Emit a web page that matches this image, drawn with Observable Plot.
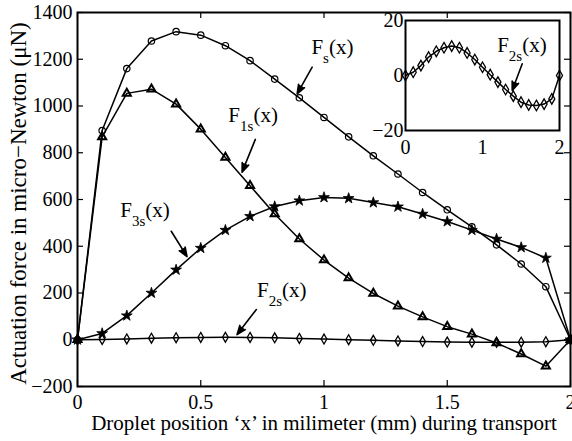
<!DOCTYPE html>
<html>
<head>
<meta charset="utf-8">
<script src="https://cdn.jsdelivr.net/npm/d3@7"></script>
<script src="https://cdn.jsdelivr.net/npm/@observablehq/plot@0.6"></script>
<style>
  body { margin: 0; background: white; }
  #wrap { position: relative; width: 572px; height: 441px; overflow: hidden; }
  #inset { position: absolute; left: 365px; top: 10px; }
</style>
</head>
<body>
<div id="wrap"><div id="main"></div><div id="inset"></div></div>
<script>
// ---- data ----
const xs   = [0, 0.1, 0.2, 0.3, 0.4, 0.5, 0.6, 0.7, 0.8, 0.9, 1.0, 1.1, 1.2, 1.3, 1.4, 1.5, 1.6, 1.7, 1.8, 1.9, 2.0];
const Fs   = [0, 895, 1160, 1278, 1318, 1303, 1258, 1194, 1115, 1035, 951, 868, 787, 709, 630, 556, 483, 406, 324, 227, 0];
const F1s  = [0, 868, 1054, 1072, 1008, 901, 780, 659, 538, 431, 341, 264, 198, 144, 98, 56, 24, -14, -61, -113, 0];
const F3s  = [0, 27, 103, 200, 299, 392, 469, 528, 570, 595, 609, 605, 587, 569, 538, 506, 469, 431, 395, 350, 0];
const F2s  = [0, 1.2, 3.6, 6.7, 8.8, 10.1, 10.7, 10.1, 8.2, 5.8, 3.0, 0.3, -2.4, -5.1, -7.5, -9.7, -10.7, -10.9, -10.4, -8.5, 0];

const xTicks = [0, 0.5, 1, 1.5, 2];
const yTicks = [-200, 0, 200, 400, 600, 800, 1000, 1200, 1400];
const insetXTicks = [0, 1, 2];
const insetYTicks = [-20, 0, 20];

const xLabel = "Droplet position \u2018x\u2019 in milimeter (mm) during transport";
const yLabel = "Actuation force in micro\u2212Newton (\u03bcN)";

// annotation labels: "main|subscript|tail"
const mainLabels = [
  {x: 0.949, y: 1250, t: "F|s|(x)"},
  {x: 0.612, y: 959,  t: "F|1s|(x)"},
  {x: 0.1734, y: 553, t: "F|3s|(x)"},
  {x: 0.728, y: 211,  t: "F|2s|(x)"}
];
const mainArrows = [
  {x1: 0.952, y1: 1166, x2: 0.891, y2: 1052},
  {x1: 0.7215, y1: 857, x2: 0.6675, y2: 717},
  {x1: 0.3804, y1: 464, x2: 0.4442, y2: 356},
  {x1: 0.7255, y1: 129, x2: 0.6472, y2: 22}
];
const insetLabels = [{x: 1.19, y: 10.9, t: "F|2s|(x)"}];
const insetArrows = [{x1: 1.516, y1: 4.25, x2: 1.386, y2: -5.45}];

// ---- build tables ----
const rows = (ys) => xs.map((x, i) => ({x, y: ys[i]}));
const dFs = rows(Fs), dF1s = rows(F1s), dF3s = rows(F3s), dF2s = rows(F2s);

const FONT = "'Liberation Serif', 'Times New Roman', serif";
const fmt = d => (d < 0 ? "\u2212" + Math.abs(d) : String(d));

const W = 572, H = 441, ML = 77, MR = 2, MT = 12, MB = 55;
const FW = W - ML - MR, FH = H - MT - MB, TK = 6;

const main = Plot.plot({
  width: W, height: H,
  marginLeft: ML, marginRight: MR, marginTop: MT, marginBottom: MB,
  x: {domain: [0, 2], axis: null},
  y: {domain: [-200, 1400], axis: null},
  style: {fontFamily: FONT, fontSize: "20px", background: "white", color: "black"},
  marks: [
    // inward ticks on four sides
    Plot.ruleX(xTicks, {x: d => d, insetTop: FH - TK, stroke: "black", strokeWidth: 1.2}),
    Plot.ruleX(xTicks, {x: d => d, insetBottom: FH - TK, stroke: "black", strokeWidth: 1.2}),
    Plot.ruleY(yTicks, {y: d => d, insetRight: FW - TK, stroke: "black", strokeWidth: 1.2}),
    Plot.ruleY(yTicks, {y: d => d, insetLeft: FW - TK, stroke: "black", strokeWidth: 1.2}),
    Plot.axisX(xTicks, {tickSize: 0, tickPadding: 8, tickFormat: fmt, fontSize: 20}),
    Plot.axisY(yTicks, {tickSize: 0, tickPadding: 5, tickFormat: fmt, fontSize: 20}),
    // series
    Plot.line(dFs,  {x: "x", y: "y", stroke: "black", strokeWidth: 1.5}),
    Plot.line(dF1s, {x: "x", y: "y", stroke: "black", strokeWidth: 1.5}),
    Plot.line(dF3s, {x: "x", y: "y", stroke: "black", strokeWidth: 1.5}),
    Plot.line(dF2s, {x: "x", y: "y", stroke: "black", strokeWidth: 1.5}),
    Plot.dot(dFs,  {x: "x", y: "y", symbol: "circle", r: 3.2, stroke: "black", fill: "none", strokeWidth: 1.2}),
    Plot.dot(dF1s, {x: "x", y: "y", symbol: "triangle", r: 3.0, stroke: "black", fill: "none", strokeWidth: 2}),
    Plot.dot(dF3s, {x: "x", y: "y", symbol: "star", r: 3.4, stroke: "black", fill: "black", strokeWidth: 0.8}),
    Plot.dot(dF2s, {x: "x", y: "y", symbol: "diamond", r: 3.0, stroke: "black", fill: "none", strokeWidth: 1.3}),
    // annotations
    Plot.text(mainLabels, {x: "x", y: "y", text: "t", textAnchor: "start", lineAnchor: "middle", fontSize: 21}),
    Plot.arrow(mainArrows, {x1: "x1", y1: "y1", x2: "x2", y2: "y2", headLength: 9, headAngle: 42, strokeWidth: 1.6, stroke: "black", fill: "black"}),
    // axis titles
    Plot.text([xLabel], {frameAnchor: "bottom", dy: 37, fontSize: 21, textAnchor: "middle", lineAnchor: "middle"}),
    Plot.text([yLabel], {frameAnchor: "left", dx: -58.5, dy: 4, rotate: -90, fontSize: 23, textAnchor: "middle", lineAnchor: "middle"}),
    Plot.frame({stroke: "black", strokeWidth: 2})
  ]
});

const IW = 204, IH = 150, IML = 40, IMR = 10, IMT = 10, IMB = 30;
const inset = Plot.plot({
  width: IW, height: IH,
  marginLeft: IML, marginRight: IMR, marginTop: IMT, marginBottom: IMB,
  x: {domain: [0, 2], axis: null},
  y: {domain: [-20, 20], axis: null},
  style: {fontFamily: FONT, fontSize: "20px", background: "transparent", color: "black"},
  marks: [
    Plot.frame({fill: "white", stroke: "none"}),
    Plot.axisX(insetXTicks, {tickSize: 0, tickPadding: 9, tickFormat: fmt, fontSize: 20}),
    Plot.axisY(insetYTicks, {tickSize: 0, tickPadding: 2, tickFormat: fmt, fontSize: 20}),
    Plot.line(dF2s, {x: "x", y: "y", stroke: "black", strokeWidth: 1.5}),
    Plot.dot(dF2s, {x: "x", y: "y", symbol: "diamond", r: 3.2, stroke: "black", fill: "none", strokeWidth: 1.3}),
    Plot.text(insetLabels, {x: "x", y: "y", text: "t", textAnchor: "start", lineAnchor: "middle", fontSize: 21}),
    Plot.arrow(insetArrows, {x1: "x1", y1: "y1", x2: "x2", y2: "y2", headLength: 9, headAngle: 42, strokeWidth: 1.6, stroke: "black", fill: "black"}),
    Plot.frame({stroke: "black", strokeWidth: 2})
  ]
});

document.getElementById("main").appendChild(main);
document.getElementById("inset").appendChild(inset);

// turn "F|s|(x)" into F with subscript
const NS = "http://www.w3.org/2000/svg";
function subscriptify(svg) {
  svg.querySelectorAll("text").forEach(t => {
    const parts = t.textContent.split("|");
    if (parts.length !== 3) return;
    while (t.firstChild) t.removeChild(t.firstChild);
    const a = document.createElementNS(NS, "tspan");
    a.textContent = parts[0];
    const b = document.createElementNS(NS, "tspan");
    b.textContent = parts[1];
    b.setAttribute("font-size", "15px");
    b.setAttribute("dy", "9");
    const c = document.createElementNS(NS, "tspan");
    c.textContent = parts[2];
    c.setAttribute("dy", "-9");
    t.append(a, b, c);
  });
}
subscriptify(main);
subscriptify(inset);
</script>
</body>
</html>
